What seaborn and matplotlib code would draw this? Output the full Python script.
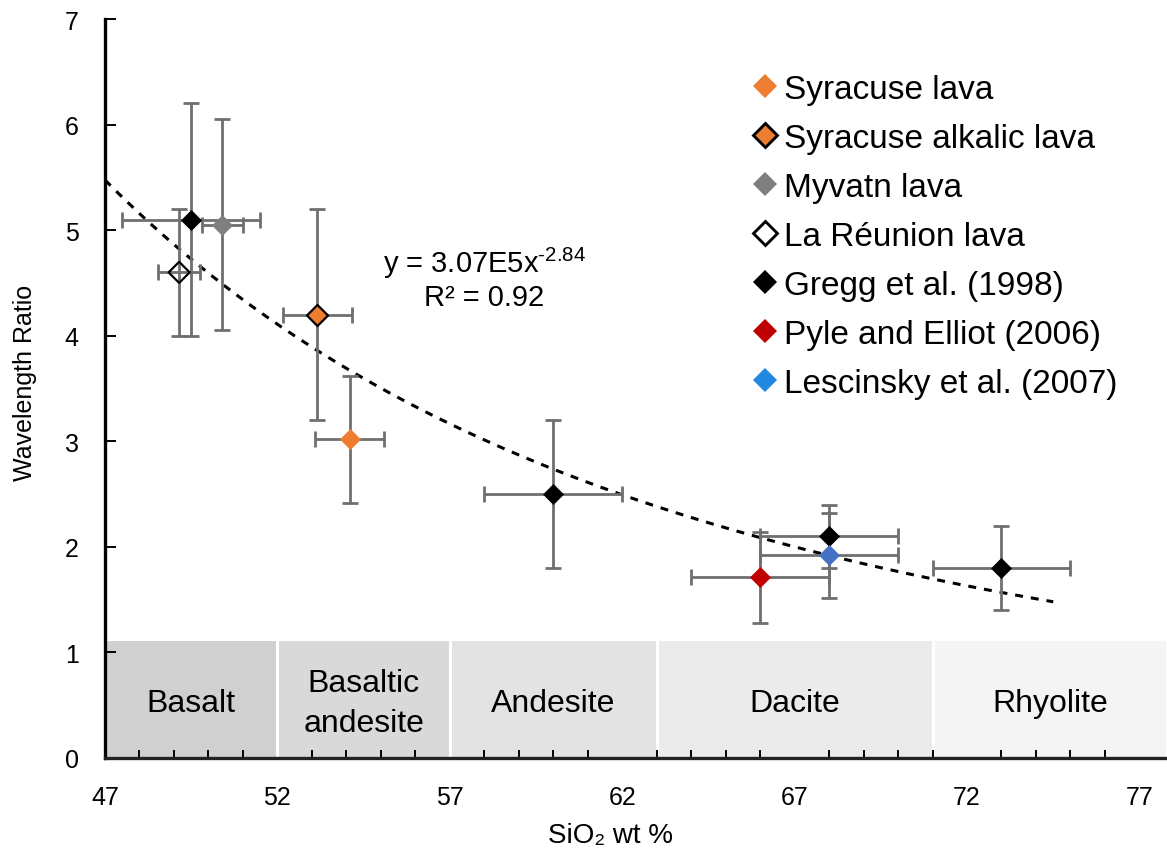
import matplotlib
matplotlib.use("Agg")
import matplotlib.pyplot as plt
from matplotlib.lines import Line2D
from matplotlib.ticker import MultipleLocator, FixedLocator
import numpy as np
import pandas as pd
import seaborn as sns

# ---- data -----------------------------------------------------------------
groups = ["Syracuse lava", "Syracuse alkalic lava", "Myvatn lava", "La Réunion lava",
          "Gregg et al. (1998)", "Pyle and Elliot (2006)", "Lescinsky et al. (2007)"]

point_group = ["Gregg et al. (1998)", "Myvatn lava", "La Réunion lava",
               "Syracuse alkalic lava", "Syracuse lava", "Gregg et al. (1998)",
               "Pyle and Elliot (2006)", "Gregg et al. (1998)",
               "Lescinsky et al. (2007)", "Gregg et al. (1998)"]
sio2 = [49.5, 50.4, 49.15, 53.15, 54.1, 60.0, 66.0, 68.0, 68.0, 73.0]
ratio = [5.1, 5.05, 4.6, 4.2, 3.02, 2.5, 1.71, 2.1, 1.92, 1.8]
sio2_err = [2.0, 0.6, 0.6, 1.0, 1.0, 2.0, 2.0, 2.0, 2.0, 2.0]
ratio_err = [1.1, 1.0, 0.6, 1.0, 0.6, 0.7, 0.43, 0.3, 0.4, 0.4]

# power-law trend  y = a * x^b
fit_a = 3.07e5
fit_b = -2.84
fit_r2 = 0.92
fit_range = (47.0, 74.5)

x_ticks = [47, 52, 57, 62, 67, 72, 77]
y_ticks = [0, 1, 2, 3, 4, 5, 6, 7]

rock_names = ["Basalt", "Basaltic\nandesite", "Andesite", "Dacite", "Rhyolite"]
rock_lo = [47, 52, 57, 63, 71]
rock_hi = [52, 57, 63, 71, 77.8]
rock_colors = ["#d0d0d0", "#d9d9d9", "#e3e3e3", "#ebebeb", "#f4f4f4"]
band_top = 1.13

styles = {
    "Syracuse lava":           dict(face="#ed7d31", edge="#ed7d31", lw=0.0),
    "Syracuse alkalic lava":   dict(face="#ed7d31", edge="black", lw=1.6),
    "Myvatn lava":             dict(face="#7f7f7f", edge="#7f7f7f", lw=0.0),
    "La Réunion lava":         dict(face="none", edge="black", lw=1.6),
    "Gregg et al. (1998)":     dict(face="black", edge="black", lw=0.0),
    "Pyle and Elliot (2006)":  dict(face="#c00000", edge="#c00000", lw=0.0),
    "Lescinsky et al. (2007)": dict(face="#4472c4", edge="#4472c4", lw=0.0),
}
legend_face = {"Lescinsky et al. (2007)": "#1f88e0"}

df = pd.DataFrame({"group": point_group, "sio2": sio2, "ratio": ratio,
                   "sio2_err": sio2_err, "ratio_err": ratio_err})

# ---- figure ---------------------------------------------------------------
sns.set_theme(style="white")
plt.rcParams["font.family"] = ["Liberation Sans", "DejaVu Sans"]
plt.rcParams["mathtext.fontset"] = "custom"
plt.rcParams["mathtext.rm"] = "Liberation Sans"
plt.rcParams["mathtext.it"] = "Liberation Sans"
plt.rcParams["text.color"] = "black"
plt.rcParams["axes.labelcolor"] = "black"
plt.rcParams["xtick.color"] = "black"
plt.rcParams["ytick.color"] = "black"

fig = plt.figure(figsize=(11.67, 8.54), dpi=100)
ax = fig.add_axes([105 / 1167, 1 - 759 / 854, 1 - 105 / 1167, (759 - 20) / 854])

# rock-type bands along the bottom
ax.bar(rock_lo, [band_top] * len(rock_lo),
       width=[h - l for l, h in zip(rock_lo, rock_hi)], align="edge",
       color=rock_colors, edgecolor="white", linewidth=2.2, zorder=0)
for name, lo, hi in zip(rock_names, rock_lo, rock_hi):
    ax.text((lo + hi) / 2, 0.52, name, ha="center", va="center",
            fontsize=23, color="black", linespacing=1.45, zorder=1)

# trend line
xf = np.linspace(*fit_range, 200)
ax.plot(xf, fit_a * xf ** fit_b, color="black", lw=2.2,
        linestyle=(0, (2.6, 2.6)), zorder=2)
ax.text(58.0, 4.55, "y = 3.07E5x$^{\\mathrm{‐2.84}}$\nR² = %.2f" % fit_r2,
        ha="center", va="center", fontsize=21, multialignment="center",
        linespacing=1.15)

# error bars
ax.errorbar(df["sio2"], df["ratio"], xerr=df["sio2_err"], yerr=df["ratio_err"],
            fmt="none", ecolor="#6f6f6f", elinewidth=2.0, capsize=5.5,
            capthick=2.0, zorder=3)

# points
for g in groups:
    sub = df[df["group"] == g]
    st = styles[g]
    sns.scatterplot(data=sub, x="sio2", y="ratio", marker="D", s=115,
                    color=st["face"] if st["face"] != "none" else "white",
                    facecolor=st["face"], edgecolor=st["edge"],
                    linewidth=st["lw"], legend=False, zorder=4, ax=ax)

# legend
handles = []
for g in groups:
    st = styles[g]
    handles.append(Line2D([], [], linestyle="none", marker="D", markersize=12,
                          markerfacecolor=legend_face.get(g, st["face"]),
                          markeredgecolor=st["edge"],
                          markeredgewidth=max(st["lw"], 0.01) * 1.3))
leg = ax.legend(handles, groups, loc="upper left",
                bbox_to_anchor=(750 / 1167, 1 - 75 / 854),
                bbox_transform=fig.transFigure, frameon=False, fontsize=24,
                handlelength=0.9, handletextpad=0.12, labelspacing=0.54,
                borderpad=0, borderaxespad=0)

# axes
ax.set_xlim(47, 77.8)
ax.set_ylim(0, 7)
ax.xaxis.set_major_locator(FixedLocator(x_ticks))
ax.xaxis.set_minor_locator(MultipleLocator(1))
ax.yaxis.set_major_locator(FixedLocator(y_ticks))
ax.tick_params(axis="x", which="major", direction="inout", length=11,
               width=1.6, labelsize=18, pad=14)
ax.tick_params(axis="x", which="minor", direction="in", length=6,
               width=1.4, bottom=True)
ax.tick_params(axis="y", which="major", direction="in", length=8,
               width=1.4, labelsize=18, pad=19, left=True)
for side in ("top", "right"):
    ax.spines[side].set_visible(False)
ax.spines["left"].set_linewidth(2.4)
ax.spines["left"].set_color("black")
ax.spines["bottom"].set_linewidth(2.4)
ax.spines["bottom"].set_color("#222222")
ax.spines["left"].set_zorder(5)
ax.spines["bottom"].set_zorder(5)

ax.set_xlabel("SiO₂ wt %", fontsize=20)
ax.xaxis.set_label_coords((611 - 105) / 1062, (759 - 823) / 739)
ax.set_ylabel("Wavelength Ratio", fontsize=18)
ax.yaxis.set_label_coords((37 - 105) / 1062, (759 - 383) / 739)

fig.savefig("out.png", dpi=100)
